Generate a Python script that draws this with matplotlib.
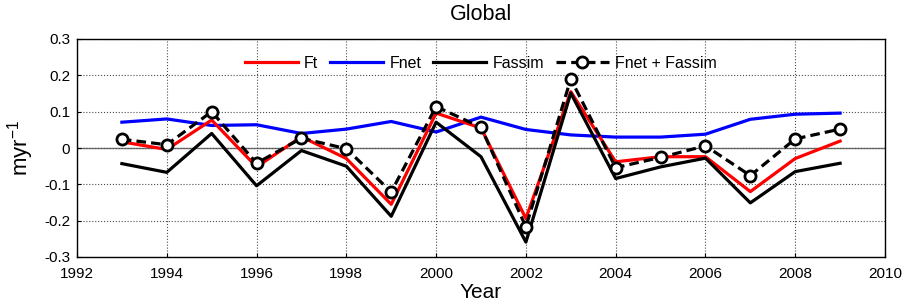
import numpy as np
from matplotlib import pyplot as plt

plt.rcParams['font.family'] = ['Liberation Sans', 'DejaVu Sans']
plt.rcParams['mathtext.default'] = 'regular'

years = np.arange(1993, 2010)
ft = [0.017, -0.004, 0.077, -0.052, 0.031, -0.029, -0.155, 0.096, 0.055,
      -0.194, 0.155, -0.038, -0.024, -0.024, -0.120, -0.029, 0.019]
fnet = [0.071, 0.080, 0.062, 0.064, 0.040, 0.052, 0.073, 0.044, 0.085,
        0.051, 0.036, 0.030, 0.030, 0.038, 0.079, 0.093, 0.096]
fassim = [-0.043, -0.067, 0.040, -0.104, -0.007, -0.050, -0.188, 0.071, -0.024,
          -0.259, 0.151, -0.084, -0.052, -0.028, -0.151, -0.065, -0.042]
fsum = [0.024, 0.009, 0.100, -0.042, 0.027, -0.002, -0.121, 0.114, 0.057,
        -0.217, 0.190, -0.054, -0.026, 0.006, -0.076, 0.025, 0.052]

fig = plt.figure(figsize=(9.04, 3.03), dpi=100)
ax = fig.add_axes([77/904, 1-257/303, 808/904, 218/303])

ax.axhline(0, color='0.45', linewidth=1, zorder=1)
ax.plot(years, ft, color='#ff0000', linewidth=2.3, label='Ft', zorder=3)
ax.plot(years, fnet, color='#0000ff', linewidth=2.3, label='Fnet', zorder=2)
ax.plot(years, fassim, color='black', linewidth=2.3, label='Fassim', zorder=3)
ax.plot(years, fsum, color='black', linewidth=2.3, linestyle=(0, (3, 1.6)),
        marker='o', markersize=8, markerfacecolor='white', markeredgewidth=2,
        label='Fnet + Fassim', zorder=4)

ax.set_xlim(1992, 2010)
ax.set_ylim(-0.3, 0.3)
ax.set_xticks(np.arange(1992, 2011, 2))
ax.set_yticks(np.arange(-0.3, 0.31, 0.1))
ax.set_yticklabels(['-0.3', '-0.2', '-0.1', '0', '0.1', '0.2', '0.3'])
ax.grid(True, linestyle=':', color='0.3', linewidth=0.8)
ax.tick_params(direction='in', length=3, labelsize=11)
ax.tick_params(axis='x', pad=7)
ax.tick_params(axis='y', pad=5)
for s in ax.spines.values():
    s.set_linewidth(1)

ax.set_title('Global', fontsize=15.5, pad=14)
ax.set_xlabel('Year', fontsize=15, labelpad=2)
ax.set_ylabel('myr$^{-1}$', fontsize=16, labelpad=6)

ax.legend(loc='center', bbox_to_anchor=(0.5, 1 - 24/218), ncol=4, frameon=False,
          fontsize=11.5, handlelength=3.3, columnspacing=0.75, handletextpad=0.4)

fig.savefig('out.png', dpi=100)
